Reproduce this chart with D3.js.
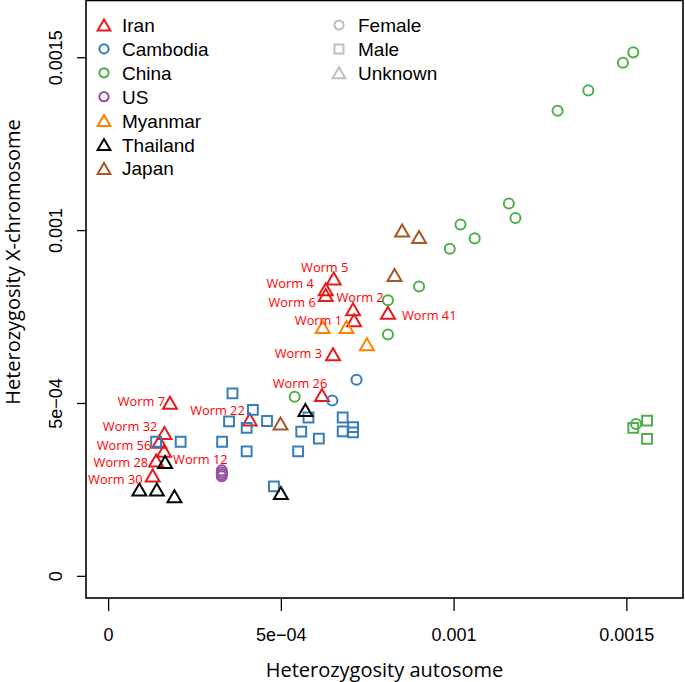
<!DOCTYPE html>
<html>
<head>
<meta charset="utf-8">
<title>Heterozygosity: autosome vs X-chromosome</title>
<style>
  body { margin: 0; background: #fff; }
  svg { display: block; }
  .tick text { font-family: "Liberation Sans", Arial, sans-serif; font-size: 18px; fill: #000; }
  .legend text { font-family: "Liberation Sans", Arial, sans-serif; font-size: 19px; }
  .title { font-family: "Open Sans", sans-serif; font-size: 20px; }
  .worm { font-family: "Open Sans", sans-serif; font-size: 12.8px; fill: #ff0000; }
</style>
</head>
<body>
<svg id="chart" width="685" height="682"></svg>
<script src="https://cdn.jsdelivr.net/npm/d3@7/dist/d3.min.js"></script>
<script>
// each point: [heterozygosity autosome, heterozygosity X-chromosome, sex]
// sex: F = female, M = male, U = unknown
var iran = [
  [0.000653, 0.000860, "U"], [0.000630, 0.000829, "U"], [0.000630, 0.000812, "U"],
  [0.000709, 0.000771, "U"], [0.000712, 0.000739, "U"], [0.000810, 0.000761, "U"],
  [0.000651, 0.000641, "U"], [0.000619, 0.000523, "U"], [0.000179, 0.000501, "U"],
  [0.000410, 0.000452, "U"], [0.000163, 0.000413, "U"], [0.000148, 0.000388, "U"],
  [0.000162, 0.000362, "U"], [0.000139, 0.000334, "U"], [0.000129, 0.000290, "U"]
];
var wormNames = ["Worm 5", "Worm 4", "Worm 6", "Worm 2", "Worm 1", "Worm 41", "Worm 3",
  "Worm 26", "Worm 7", "Worm 22", "Worm 32", "Worm 56", "Worm 12", "Worm 28", "Worm 30"];

var cambodia = [
  [0.000719, 0.000567, "F"], [0.000649, 0.000507, "F"],
  [0.000360, 0.000528, "M"], [0.000419, 0.000480, "M"], [0.000350, 0.000447, "M"],
  [0.000460, 0.000448, "M"], [0.000401, 0.000428, "M"], [0.000580, 0.000458, "M"],
  [0.000679, 0.000458, "M"], [0.000679, 0.000418, "M"], [0.000709, 0.000430, "M"],
  [0.000709, 0.000415, "M"], [0.000559, 0.000417, "M"], [0.000610, 0.000397, "M"],
  [0.000139, 0.000388, "M"], [0.000210, 0.000388, "M"], [0.000330, 0.000388, "M"],
  [0.000401, 0.000360, "M"], [0.000550, 0.000360, "M"], [0.000480, 0.000259, "M"]
];

var china = [
  [0.001520, 0.001514, "F"], [0.001490, 0.001484, "F"], [0.001390, 0.001404, "F"],
  [0.001301, 0.001345, "F"], [0.001160, 0.001077, "F"], [0.001179, 0.001035, "F"],
  [0.001020, 0.001016, "F"], [0.001061, 0.000976, "F"], [0.000989, 0.000946, "F"],
  [0.000900, 0.000837, "F"], [0.000810, 0.000797, "F"], [0.000810, 0.000698, "F"],
  [0.000540, 0.000518, "F"], [0.001528, 0.000439, "F"],
  [0.001520, 0.000428, "M"], [0.001560, 0.000449, "M"], [0.001560, 0.000396, "M"]
];

var us = [
  [0.000329, 0.000305, "F"], [0.000329, 0.000299, "F"],
  [0.000329, 0.000293, "F"], [0.000329, 0.000288, "F"]
];

var myanmar = [
  [0.000621, 0.000720, "U"], [0.000690, 0.000720, "U"], [0.000749, 0.000670, "U"]
];

var thailand = [
  [0.000571, 0.000480, "U"], [0.000165, 0.000329, "U"], [0.0000905, 0.000250, "U"],
  [0.000141, 0.000250, "U"], [0.000192, 0.000230, "U"], [0.000500, 0.000240, "U"]
];

var japan = [
  [0.000851, 0.000999, "U"], [0.000900, 0.000980, "U"],
  [0.000829, 0.000870, "U"], [0.000499, 0.000441, "U"]
];

var countries = ["Iran", "Cambodia", "China", "US", "Myanmar", "Thailand", "Japan"];
var countryData = [iran, cambodia, china, us, myanmar, thailand, japan];
var countryColors = ["#e41a1c", "#377eb8", "#4daf4a", "#984ea3", "#ff7f00", "#000000", "#a65628"];
var countryShapes = ["U", "F", "F", "F", "U", "U", "U"];

var sexKeys = ["F", "M", "U"];
var sexLabels = ["Female", "Male", "Unknown"];

var tickValues = [0, 0.0005, 0.001, 0.0015];
var tickLabels = ["0", "5e\u221204", "0.001", "0.0015"];

// label placement for the Iran worms: [anchor, dx, dy] in pixels
var wormLabelPos = [
  ["middle", -9, -12], ["end", -12, -6], ["end", -10, 7], ["middle", 7, -12],
  ["end", -12, -0.5], ["start", 14, 2], ["end", -11, -1], ["middle", -22, -12],
  ["end", -5, -2], ["end", -5, -10], ["end", -7, -7], ["end", -8, 3],
  ["start", 9, 8], ["end", -8, 2], ["end", -10, 3]
];

var svg = d3.select("#chart");
svg.append("rect").attr("width", 685).attr("height", 682).attr("fill", "#fff");

var box = { left: 86, right: 683, top: 0.5, bottom: 598 };

var x = d3.scaleLinear().domain([-0.000064, 0.001664]).range([box.left, box.right]);
var y = d3.scaleLinear().domain([-0.000064, 0.001664]).range([box.bottom, box.top]);

// shape paths, centred on the point
function shapePath(key, s) {
  if (key === "F") {
    var r = s * 0.42;
    return "M" + (-r) + ",0A" + r + "," + r + " 0 1,0 " + r + ",0A" + r + "," + r + " 0 1,0 " + (-r) + ",0Z";
  }
  if (key === "M") {
    var h = s * 0.41;
    return "M" + (-h) + "," + (-h) + "H" + h + "V" + h + "H" + (-h) + "Z";
  }
  var w = s * 0.58, t = s * 0.5;
  return "M0," + (-t) + "L" + w + "," + t + "L" + (-w) + "," + t + "Z";
}

// axes
var xAxis = d3.axisBottom(x).tickValues(tickValues)
  .tickFormat(function (d, i) { return tickLabels[i]; }).tickSize(13).tickSizeOuter(0);
var yAxis = d3.axisLeft(y).tickValues(tickValues)
  .tickFormat(function (d, i) { return tickLabels[i]; }).tickSize(9).tickSizeOuter(0);

var gx = svg.append("g").attr("transform", "translate(0," + box.bottom + ")").call(xAxis);
gx.select(".domain").remove();
gx.selectAll(".tick line").attr("stroke", "#000").attr("stroke-width", 1.3);
gx.selectAll(".tick text").attr("y", 43).attr("dy", 0);

var gy = svg.append("g").attr("transform", "translate(" + box.left + ",0)").call(yAxis);
gy.select(".domain").remove();
gy.selectAll(".tick line").attr("stroke", "#000").attr("stroke-width", 1.3);
gy.selectAll(".tick text")
  .attr("transform", "rotate(-90)")
  .attr("x", 0).attr("y", -24).attr("dy", 0)
  .attr("text-anchor", "middle");

// plot box
svg.append("rect")
  .attr("x", box.left).attr("y", box.top)
  .attr("width", box.right - box.left).attr("height", box.bottom - box.top)
  .attr("fill", "none").attr("stroke", "#000").attr("stroke-width", 1.6);

// points
countryData.forEach(function (pts, ci) {
  svg.append("g").selectAll("path")
    .data(pts)
    .enter()
    .append("path")
    .attr("d", function (d) { return shapePath(d[2], 12); })
    .attr("transform", function (d) { return "translate(" + x(d[0]) + "," + y(d[1]) + ")"; })
    .attr("fill", "none")
    .attr("stroke", countryColors[ci])
    .attr("stroke-width", 2);
});

// worm labels
svg.append("g").selectAll("text")
  .data(iran)
  .enter()
  .append("text")
  .attr("class", "worm")
  .attr("x", function (d, i) { return x(d[0]) + wormLabelPos[i][1]; })
  .attr("y", function (d, i) { return y(d[1]) + wormLabelPos[i][2]; })
  .attr("text-anchor", function (d, i) { return wormLabelPos[i][0]; })
  .attr("dominant-baseline", "central")
  .text(function (d, i) { return wormNames[i]; });

// legends
var leg1 = svg.append("g").attr("class", "legend");
countries.forEach(function (c, i) {
  var yy = 25 + i * 23.9;
  leg1.append("path")
    .attr("d", shapePath(countryShapes[i], 11))
    .attr("transform", "translate(104," + yy + ")")
    .attr("fill", "none").attr("stroke", countryColors[i]).attr("stroke-width", 2);
  leg1.append("text").attr("x", 122).attr("y", yy + 7).text(c);
});

var leg2 = svg.append("g").attr("class", "legend");
sexLabels.forEach(function (s, i) {
  var yy = 25 + i * 23.9;
  leg2.append("path")
    .attr("d", shapePath(sexKeys[i], 11))
    .attr("transform", "translate(339," + yy + ")")
    .attr("fill", "none").attr("stroke", "#bebebe").attr("stroke-width", 2);
  leg2.append("text").attr("x", 358).attr("y", yy + 7).text(s);
});

// axis titles
svg.append("text").attr("class", "title")
  .attr("x", (box.left + box.right) / 2).attr("y", 677)
  .attr("text-anchor", "middle")
  .text("Heterozygosity autosome");

svg.append("text").attr("class", "title")
  .attr("transform", "translate(20,262) rotate(-90)")
  .attr("text-anchor", "middle")
  .text("Heterozygosity X-chromosome");
</script>
</body>
</html>
